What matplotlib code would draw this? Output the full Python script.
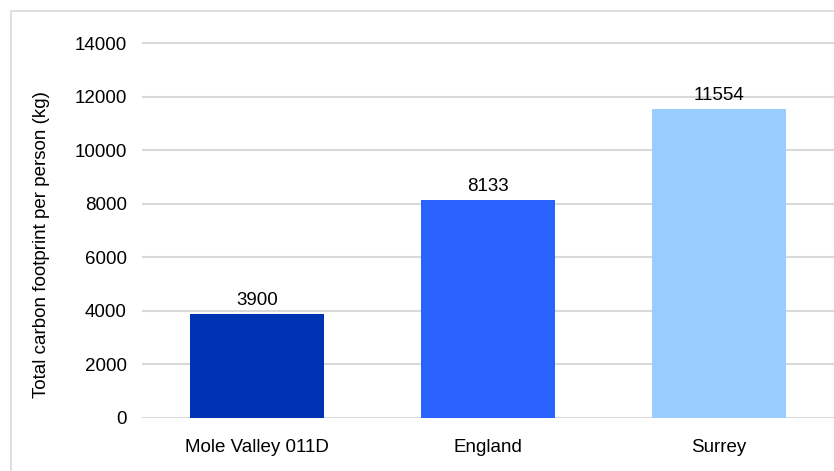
import matplotlib
matplotlib.use("Agg")
import matplotlib.pyplot as plt
from matplotlib.patches import Rectangle

categories = ["Mole Valley 011D", "England", "Surrey"]
values = [3900, 8133, 11554]
colors = ["#0033b3", "#2962ff", "#99ccff"]
yticks = [0, 2000, 4000, 6000, 8000, 10000, 12000, 14000]

plt.rcParams['font.family'] = ['Liberation Sans', 'DejaVu Sans']
FS = 13.5

W, H = 834, 471
fig = plt.figure(figsize=(W/100, H/100), dpi=100)
fig.patches.append(Rectangle((10.5/W, -0.1), 1.2, (H-10.5)/H + 0.1, transform=fig.transFigure,
                             fill=False, edgecolor="#d9d9d9", linewidth=1.2, zorder=0))
ax = fig.add_axes([142/W, (H-418)/H, 1 - 142/W, (418-40)/H])
x = list(range(len(categories)))
bars = ax.bar(x, values, width=0.58, color=colors, zorder=3)
ax.set_xlim(-0.5, 2.5)
ax.set_ylim(0, 14000 * (418-40) / (418-43))
ax.set_yticks(yticks)
ax.set_yticklabels([str(t) for t in yticks], fontsize=FS)
ax.set_xticks(x)
ax.set_xticklabels(categories, fontsize=FS)
ax.tick_params(axis='both', length=0)
ax.tick_params(axis='y', pad=11)
ax.tick_params(axis='x', pad=15)
ax.grid(axis='y', color="#d9d9d9", linewidth=1.5, zorder=0)
for s in ax.spines.values():
    s.set_visible(False)
ax.set_facecolor("none")
for b, v in zip(bars, values):
    ax.text(b.get_x() + b.get_width()/2, v + 180, str(v), ha='center', va='bottom', fontsize=FS)
fig.text(42/W, 1 - 245/H, "Total carbon footprint per person (kg)", rotation=90,
         ha='center', va='center', fontsize=FS)
fig.savefig("out.png", dpi=100)
